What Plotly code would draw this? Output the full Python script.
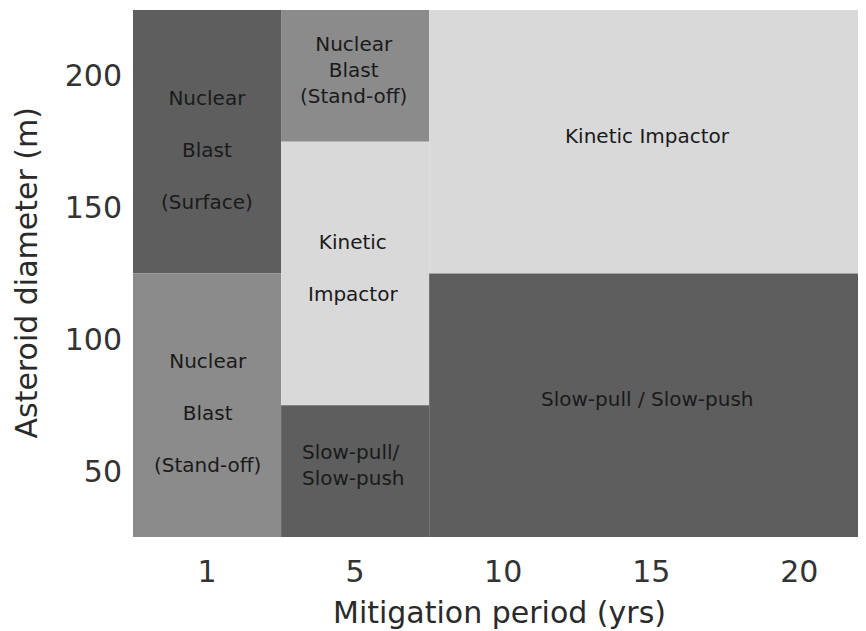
import plotly.graph_objects as go

# ---- data ----
period_ticks = ["1", "5", "10", "15", "20"]          # mitigation period (yrs)
diameter_ticks = [50, 100, 150, 200]                  # asteroid diameter (m)

region_names = [
    "Nuclear Blast (Surface)",
    "Nuclear Blast (Stand-off)",
    "Nuclear Blast (Stand-off) ",
    "Kinetic Impactor",
    "Slow-pull/Slow-push",
    "Kinetic Impactor ",
    "Slow-pull / Slow-push",
]
region_text = [
    "Nuclear<br><br>Blast<br><br>(Surface)",
    "Nuclear<br><br>Blast<br><br>(Stand-off)",
    "Nuclear<br>Blast<br>(Stand-off)",
    "Kinetic<br><br>Impactor",
    "Slow-pull/<br>Slow-push",
    "Kinetic Impactor",
    "Slow-pull / Slow-push",
]
region_period_first = [0, 0, 1, 1, 1, 2, 2]   # index into period_ticks
region_period_last = [0, 0, 1, 1, 1, 4, 4]
region_dmin = [125, 25, 175, 75, 25, 125, 25]
region_dmax = [225, 125, 225, 175, 75, 225, 125]
region_shade = ["dark", "medium", "medium", "light", "dark", "light", "dark"]

# ---- styles ----
shade_colors = {"dark": "#5e5e5e", "medium": "#8b8b8b", "light": "#d9d9d9"}
FONT = "DejaVu Sans"

fig = go.Figure()

for i, name in enumerate(region_names):
    x0 = region_period_first[i] - 0.5
    x1 = region_period_last[i] + 0.5
    y0, y1 = region_dmin[i], region_dmax[i]
    fig.add_trace(go.Scatter(
        x=[x0, x1, x1, x0, x0],
        y=[y0, y0, y1, y1, y0],
        fill="toself",
        fillcolor=shade_colors[region_shade[i]],
        mode="lines",
        line=dict(width=0, color=shade_colors[region_shade[i]]),
        hoverinfo="skip",
        showlegend=False,
        name=name,
    ))

for i in range(len(region_names)):
    xc = (region_period_first[i] + region_period_last[i]) / 2
    yc = (region_dmin[i] + region_dmax[i]) / 2
    first_col = region_period_first[i] == 0
    wide = region_period_last[i] > region_period_first[i]
    fig.add_annotation(
        x=xc, y=yc, xref="x", yref="y",
        text=region_text[i],
        showarrow=False,
        align="left" if "Slow-pull/<br>" in region_text[i] else "center",
        font=dict(family=FONT, size=20, color="#1a1a1a"),
        yshift=-8 if first_col else 6,
        xshift=-4 if wide else (0 if first_col else -2),
    )

# axis titles
fig.add_annotation(
    text="Mitigation period (yrs)", xref="paper", yref="paper",
    x=0.5, y=0, yshift=-75, xanchor="center", yanchor="middle",
    showarrow=False, font=dict(family=FONT, size=30, color="#2a2a2a"),
)
fig.add_annotation(
    text="Asteroid diameter (m)", xref="paper", yref="paper",
    x=0, y=0.5, xshift=-107, xanchor="center", yanchor="middle",
    textangle=-90, showarrow=False,
    font=dict(family=FONT, size=30, color="#2a2a2a"),
)

fig.update_xaxes(
    range=[-0.5, 4.45],
    tickmode="array",
    tickvals=list(range(len(period_ticks))),
    ticktext=period_ticks,
    showgrid=False, zeroline=False, showline=False,
    ticks="", ticklabelstandoff=14,
    tickfont=dict(family=FONT, size=30, color="#333333"),
)
fig.update_yaxes(
    range=[25, 225],
    tickmode="array",
    tickvals=diameter_ticks,
    ticktext=[str(v) for v in diameter_ticks],
    showgrid=False, zeroline=False, showline=False,
    ticks="", ticklabelstandoff=10,
    tickfont=dict(family=FONT, size=30, color="#333333"),
)

# page body has an 8px margin, so the figure is 8px smaller and shifted
fig.update_layout(
    width=858, height=623,
    margin=dict(l=125, r=0, t=2, b=94, autoexpand=False),
    plot_bgcolor="white", paper_bgcolor="white",
    showlegend=False,
)

fig.write_html("out.html")
